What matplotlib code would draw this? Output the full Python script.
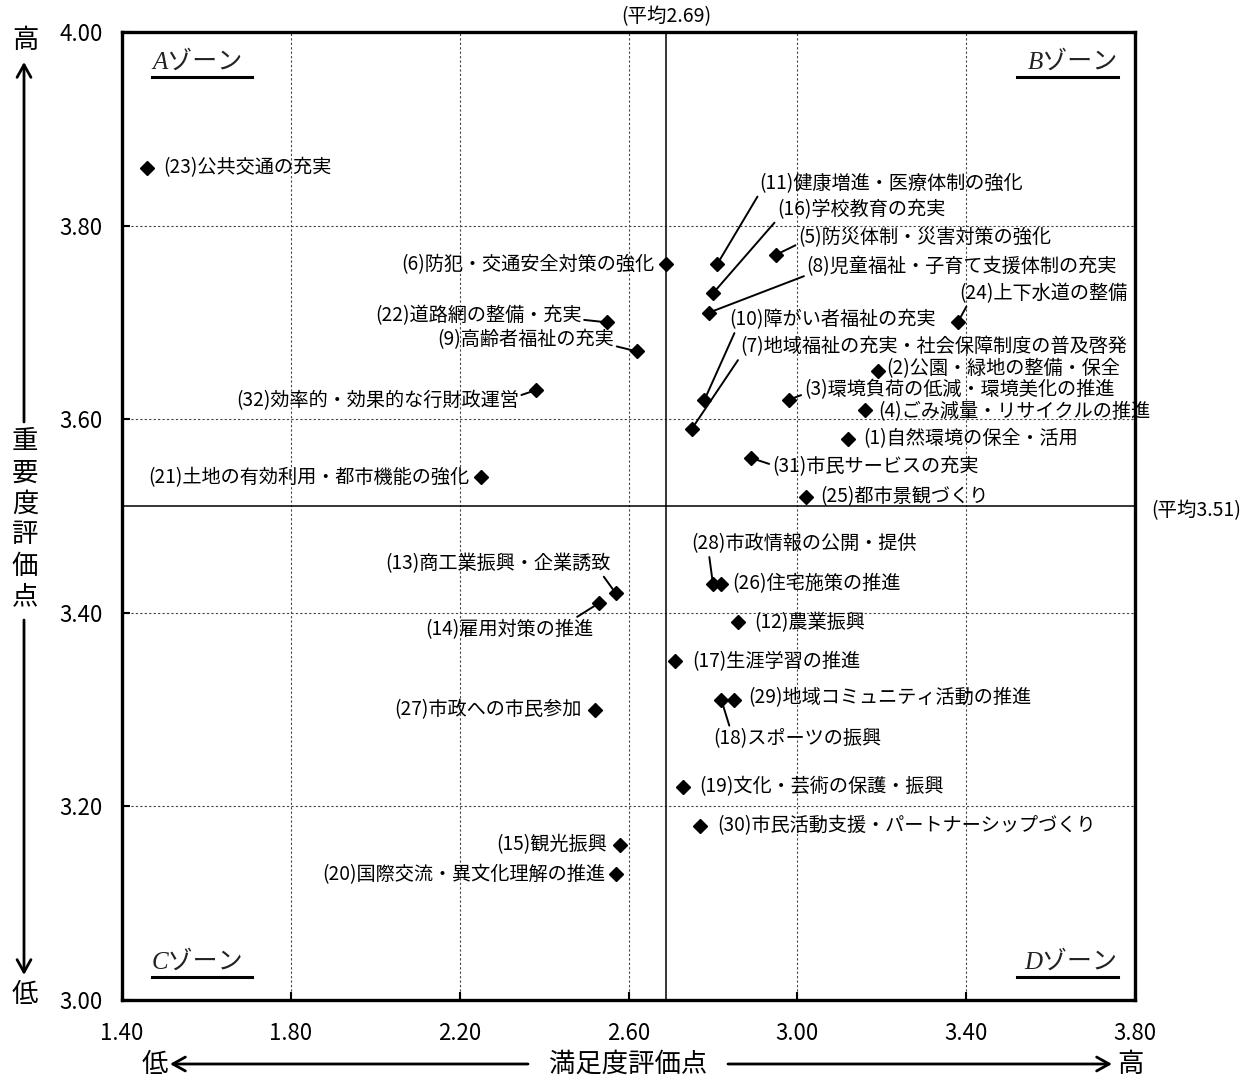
import numpy as np
import matplotlib
matplotlib.use('Agg')
import matplotlib.pyplot as plt

plt.rcParams['font.family'] = ['Noto Sans CJK JP', 'DejaVu Sans']

# 施策番号・名称
item_no = [1, 2, 3, 4, 5, 6, 7, 8, 9, 10, 11, 12, 13, 14, 15, 16,
           17, 18, 19, 20, 21, 22, 23, 24, 25, 26, 27, 28, 29, 30, 31, 32]
item_name = ['自然環境の保全・活用', '公園・緑地の整備・保全', '環境負荷の低減・環境美化の推進',
             'ごみ減量・リサイクルの推進', '防災体制・災害対策の強化', '防犯・交通安全対策の強化',
             '地域福祉の充実・社会保障制度の普及啓発', '児童福祉・子育て支援体制の充実',
             '高齢者福祉の充実', '障がい者福祉の充実', '健康増進・医療体制の強化', '農業振興',
             '商工業振興・企業誘致', '雇用対策の推進', '観光振興', '学校教育の充実',
             '生涯学習の推進', 'スポーツの振興', '文化・芸術の保護・振興', '国際交流・異文化理解の推進',
             '土地の有効利用・都市機能の強化', '道路網の整備・充実', '公共交通の充実', '上下水道の整備',
             '都市景観づくり', '住宅施策の推進', '市政への市民参加', '市政情報の公開・提供',
             '地域コミュニティ活動の推進', '市民活動支援・パートナーシップづくり', '市民サービスの充実',
             '効率的・効果的な行財政運営']

# 満足度評価点 (x) / 重要度評価点 (y)
satisfaction = [3.12, 3.19, 2.98, 3.16, 2.95, 2.69, 2.75, 2.79, 2.62, 2.78, 2.81, 2.86,
                2.57, 2.53, 2.58, 2.80, 2.71, 2.82, 2.73, 2.57, 2.25, 2.55, 1.46, 3.38,
                3.02, 2.82, 2.52, 2.80, 2.85, 2.77, 2.89, 2.38]
importance = [3.58, 3.65, 3.62, 3.61, 3.77, 3.76, 3.59, 3.71, 3.67, 3.62, 3.76, 3.39,
              3.42, 3.41, 3.16, 3.73, 3.35, 3.31, 3.22, 3.13, 3.54, 3.70, 3.86, 3.70,
              3.52, 3.43, 3.30, 3.43, 3.31, 3.18, 3.56, 3.63]

mean_x = 2.69
mean_y = 3.51

x_ticks = [1.40, 1.80, 2.20, 2.60, 3.00, 3.40, 3.80]
y_ticks = [3.00, 3.20, 3.40, 3.60, 3.80, 4.00]

# label layout: (dx px, dy px, ha, leader, relpos)
label_layout = {
    1: (15, 0, 'left', False, None),
    2: (9, -2, 'left', False, None),
    3: (15, -10, 'left', True, (0, 0.3)),
    4: (13, 2, 'left', False, None),
    5: (22, -17, 'left', True, (0, 0.2)),
    6: (-12, 0, 'right', False, None),
    7: (48, -82, 'left', True, (0, 0)),
    8: (98, -46, 'left', True, (0, 0.1)),
    9: (-23, -12, 'right', True, (1, 0.2)),
    10: (25, -80, 'left', True, (0.03, 0)),
    11: (42, -81, 'left', True, (0, 0)),
    12: (16, 0, 'left', False, None),
    13: (-5, -30, 'right', True, (0.96, 0)),
    14: (-6, 27, 'right', True, (0.88, 1)),
    15: (-13, 0, 'right', False, None),
    16: (64, -84, 'left', True, (0, 0)),
    17: (17, 0, 'left', False, None),
    18: (-8, 39, 'left', True, (0.1, 1)),
    19: (16, 0, 'left', False, None),
    20: (-11, 0, 'right', False, None),
    21: (-11, 0, 'right', False, None),
    22: (-26, -7, 'right', True, (1, 0.3)),
    23: (16, 0, 'left', False, None),
    24: (170, -29, 'right', True, (0.05, 0)),
    25: (14, 0, 'left', False, None),
    26: (11, 0, 'left', False, None),
    27: (-13, 0, 'right', False, None),
    28: (-22, -40, 'left', True, (0.08, 0)),
    29: (14, -2, 'left', False, None),
    30: (17, 0, 'left', False, None),
    31: (21, 9, 'left', True, (0, 0.6)),
    32: (-17, 10, 'right', True, (1, 0.7)),
}

W, H = 1251, 1080
def fx(px):
    return px / W
def fy(py):
    return 1 - py / H

fig = plt.figure(figsize=(W / 100, H / 100), dpi=100)
ax = fig.add_axes([fx(122), fy(1000), (1135 - 122) / W, (1000 - 32) / H])

ax.set_xlim(x_ticks[0], x_ticks[-1])
ax.set_ylim(y_ticks[0], y_ticks[-1])
ax.set_xticks(x_ticks)
ax.set_yticks(y_ticks)
ax.set_xticklabels(['%.2f' % v for v in x_ticks])
ax.set_yticklabels(['%.2f' % v for v in y_ticks])
ax.tick_params(direction='in', length=6, width=1.5, labelsize=16)
ax.tick_params(axis='x', pad=16)
ax.tick_params(axis='y', pad=14)
ax.grid(True, linestyle=(0, (2, 2)), linewidth=0.8, color='#444444')
for s in ax.spines.values():
    s.set_linewidth(2.4)

ax.axvline(mean_x, color='black', lw=1.1)
ax.axhline(mean_y, color='black', lw=1.1)

ax.plot(satisfaction, importance, linestyle='none', marker='D', ms=7,
        color='black', zorder=5, clip_on=False)

for no, name, x, y in zip(item_no, item_name, satisfaction, importance):
    dx, dy, ha, leader, rel = label_layout[no]
    props = None
    if leader:
        props = dict(arrowstyle='-', lw=1.4, color='black', shrinkA=0, shrinkB=2,
                     relpos=rel)
    ax.annotate('(%d)%s' % (no, name), xy=(x, y), xytext=(dx * 0.72, -dy * 0.72),
                textcoords='offset points', ha=ha, va='center', fontsize=13.8,
                arrowprops=props, annotation_clip=False)

# zones
zone_font = dict(family=['Liberation Serif', 'Noto Sans CJK JP'], style='italic',
                 fontsize=18, color='#222222')
ax.text(0.0296, 0.969, 'Aゾーン', transform=ax.transAxes, ha='left', va='center', **zone_font)
ax.text(0.983, 0.969, 'Bゾーン', transform=ax.transAxes, ha='right', va='center', **zone_font)
ax.text(0.0296, 0.039, 'Cゾーン', transform=ax.transAxes, ha='left', va='center', **zone_font)
ax.text(0.983, 0.039, 'Dゾーン', transform=ax.transAxes, ha='right', va='center', **zone_font)
for x0, x1, yy in [(0.0296, 0.128, 0.9535), (0.884, 0.983, 0.9535),
                   (0.0296, 0.128, 0.0235), (0.884, 0.983, 0.0235)]:
    ax.plot([x0, x1], [yy, yy], color='black', lw=2.2, transform=ax.transAxes,
            clip_on=False)

# mean labels
ax.annotate('(平均%.2f)' % mean_x, xy=(mean_x, 1), xycoords=('data', 'axes fraction'),
            xytext=(0, 11), textcoords='offset points', ha='center', va='center',
            fontsize=14)
ax.annotate('(平均%.2f)' % mean_y, xy=(1, mean_y), xycoords=('axes fraction', 'data'),
            xytext=(12, -3), textcoords='offset points', ha='left', va='center',
            fontsize=14)

# axis titles with arrows
big = 19
arrow = dict(arrowstyle='->,head_length=0.9,head_width=0.5', lw=2, color='black',
             shrinkA=0, shrinkB=0)
fig.text(fx(25), fy(40), '高', fontsize=big, ha='center', va='center')
ax.annotate('', xy=(fx(24), fy(62)), xytext=(fx(24), fy(422)),
            xycoords='figure fraction', arrowprops=arrow)
for i, ch in enumerate('重要度評価点'):
    fig.text(fx(25), fy(442 + i * 31), ch, fontsize=big, ha='center', va='center')
ax.annotate('', xy=(fx(24), fy(975)), xytext=(fx(24), fy(620)),
            xycoords='figure fraction', arrowprops=arrow)
fig.text(fx(25), fy(994), '低', fontsize=big, ha='center', va='center')

fig.text(fx(155), fy(1064), '低', fontsize=big, ha='center', va='center')
ax.annotate('', xy=(fx(170), fy(1064)), xytext=(fx(528), fy(1064)),
            xycoords='figure fraction', arrowprops=arrow)
fig.text(fx(628), fy(1064), '満足度評価点', fontsize=big, ha='center', va='center')
ax.annotate('', xy=(fx(1112), fy(1064)), xytext=(fx(728), fy(1064)),
            xycoords='figure fraction', arrowprops=arrow)
fig.text(fx(1130), fy(1064), '高', fontsize=big, ha='center', va='center')

fig.savefig('out.png', dpi=100)
